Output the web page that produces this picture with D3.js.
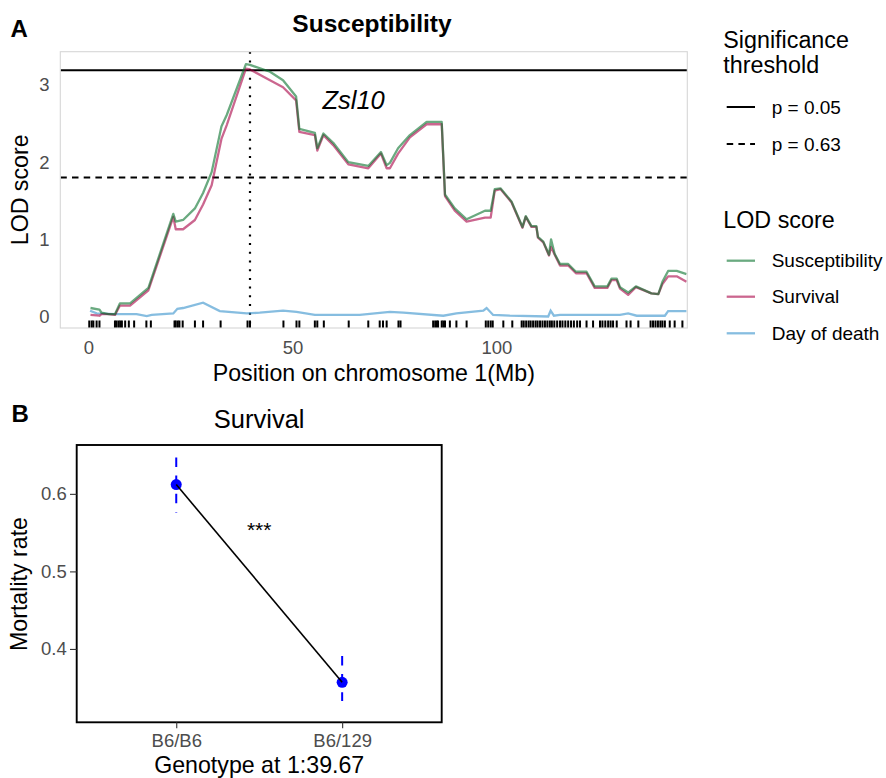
<!DOCTYPE html>
<html>
<head>
<meta charset="utf-8">
<script src="https://cdn.jsdelivr.net/npm/d3@7"></script>
<style>
  body { margin: 0; background: #fff; }
  svg text { font-family: "Liberation Sans", Arial, Helvetica, sans-serif; }
</style>
</head>
<body>
<svg id="chart" width="886" height="778"></svg>
<script>
// ---- Data: panel A (LOD scan, chromosome 1) ----
let positions = [0.5, 2.7, 3.2, 4.9, 6.5, 7.7, 10.2, 14.7, 20.8, 21.4, 23.2, 26.1, 28.1, 30.2, 32.6, 33.9,
  38.6, 39.6, 44.5, 47.7, 50.9, 51.7, 55.5, 56.1, 57.6, 60.0, 63.7, 68.6, 71.7, 73.1, 73.9, 75.9, 78.8,
  82.9, 86.6, 87.4, 89.8, 92.7, 97.2, 98.6, 99.6, 101.0, 103.7, 106.4, 107.2, 108.6, 109.8, 110.2, 111.5,
  112.9, 113.4, 114.3, 115.6, 117.6, 119.5, 122.1, 124.1, 127.2, 128.2, 129.5, 130.3, 132.3, 134.2, 138.0,
  139.7, 140.7, 142.1, 144.2, 146.6];
let suscLod = [0.11, 0.09, 0.05, 0.03, 0.03, 0.17, 0.17, 0.37, 1.33, 1.23, 1.25, 1.40, 1.60, 1.87, 2.46, 2.61,
  3.27, 3.26, 3.17, 3.06, 2.85, 2.43, 2.38, 2.18, 2.37, 2.25, 2.00, 1.95, 2.13, 1.96, 1.99, 2.18, 2.35,
  2.52, 2.52, 1.58, 1.40, 1.26, 1.37, 1.37, 1.65, 1.66, 1.49, 1.16, 1.30, 1.17, 1.17, 1.03, 0.97,
  0.80, 1.00, 0.81, 0.68, 0.68, 0.58, 0.58, 0.39, 0.39, 0.49, 0.49, 0.38, 0.31, 0.39, 0.30,
  0.29, 0.45, 0.59, 0.59, 0.55];
let survLod = [0.02, 0.01, 0.03, 0.03, 0.02, 0.14, 0.14, 0.34, 1.29, 1.13, 1.13, 1.25, 1.45, 1.70, 2.30, 2.48,
  3.21, 3.20, 3.06, 2.97, 2.80, 2.39, 2.35, 2.15, 2.35, 2.22, 1.97, 1.92, 2.11, 1.92, 1.92, 2.11, 2.32,
  2.49, 2.49, 1.56, 1.37, 1.23, 1.28, 1.28, 1.63, 1.65, 1.48, 1.15, 1.29, 1.16, 1.16, 1.02, 0.96,
  0.79, 0.90, 0.80, 0.66, 0.66, 0.56, 0.56, 0.37, 0.37, 0.47, 0.47, 0.36, 0.28, 0.38, 0.30,
  0.29, 0.42, 0.52, 0.52, 0.45];
let dodPos = [0.4, 2.0, 6.5, 11.8, 14.3, 15.5, 20.8, 21.8, 23.2, 28.1, 32.2, 38.8, 42.0, 47.7, 51.0, 55.5,
  66.5, 73.9, 77.2, 87.0, 90.2, 96.8, 97.6, 99.2, 103.3, 112.7, 113.3, 114.1, 115.6, 130.3, 132.3, 134.4,
  141.3, 142.1, 146.6];
let dodLod = [0.075, 0.04, 0.03, 0.03, 0.006, 0.02, 0.04, 0.10, 0.11, 0.18, 0.07, 0.04, 0.05, 0.075, 0.06, 0.02,
  0.02, 0.06, 0.05, 0.01, 0.04, 0.075, 0.11, 0.02, 0.01, 0.00, 0.075, 0.01, 0.02, 0.02, 0.04, 0.01,
  0.01, 0.07, 0.07];
let markerPos = [0.2, 0.8, 1.2, 2.0, 2.7, 6.5, 6.9, 7.4, 7.8, 8.2, 9.0, 9.9, 11.2, 14.2, 15.3, 21.1, 21.4,
  21.9, 22.3, 23.1, 26.1, 28.1, 32.4, 39.0, 39.6, 47.8, 51.0, 51.7, 55.5, 56.1, 57.7, 63.8, 68.6, 71.4,
  72.2, 73.1, 76.0, 76.5, 84.5, 85.0, 85.4, 85.7, 86.6, 87.0, 87.4, 88.6, 90.2, 92.7, 97.4, 98.0, 98.6,
  99.1, 101.7, 103.9, 106.2, 106.7, 107.3, 107.9, 108.4, 109.0, 109.6, 110.1, 110.7, 111.3, 111.9, 112.5,
  113.1, 113.6, 114.2, 114.9, 115.6, 116.2, 116.9, 117.6, 118.3, 119.0, 119.8, 120.5, 122.1, 123.7, 125.4,
  126.0, 126.7, 127.4, 128.0, 128.6, 129.5, 131.9, 132.9, 134.8, 137.8, 138.4, 139.0, 139.6, 140.2, 140.7,
  141.3, 142.5, 143.7, 145.6];
let xTicksA = [0, 50, 100];
let yTicksA = [0, 1, 2, 3];
let thresholds = [3.19, 1.80];
let thresholdLabels = ["p = 0.05", "p = 0.63"];
let peakPos = 39.6;
let seriesNames = ["Susceptibility", "Survival", "Day of death"];

// ---- Data: panel B (mortality by genotype) ----
let genotypes = ["B6/B6", "B6/129"];
let mortality = [0.612, 0.357];
let errLow = [0.576, 0.333];
let errHigh = [0.647, 0.391];
let yTicksB = [0.4, 0.5, 0.6];

// Styles
let colors = { Susceptibility: "#07712b", Survival: "#a80045", "Day of death": "#3591cb" };
let tickGray = "#4d4d4d";
let tickSize = "18.5px", titleSize = "23.2px";

let svg = d3.select("#chart");

// ================= Panel A =================
let pA = { left: 60.3, right: 687.3, top: 51.7, bottom: 328 };
let x = d3.scaleLinear().domain([-6.9, 146.8]).range([pA.left, pA.right]);
let y = d3.scaleLinear().domain([-0.149, 3.43]).range([pA.bottom, pA.top]);

svg.append("clipPath").attr("id", "clipA")
  .append("rect")
    .attr("x", pA.left).attr("y", pA.top)
    .attr("width", pA.right - pA.left).attr("height", pA.bottom - pA.top);

let gA = svg.append("g").attr("clip-path", "url(#clipA)");

// Threshold lines
gA.selectAll("line.threshold")
  .data(thresholds)
  .enter()
  .append("line")
    .attr("class", "threshold")
    .attr("x1", pA.left).attr("x2", pA.right)
    .attr("y1", d => y(d)).attr("y2", d => y(d))
    .attr("stroke", "black")
    .attr("stroke-width", 2)
    .attr("stroke-dasharray", (d, i) => i == 0 ? null : "6.5,5.2");

// Peak marker
gA.append("line")
  .attr("x1", x(peakPos)).attr("x2", x(peakPos))
  .attr("y1", pA.top).attr("y2", pA.bottom)
  .attr("stroke", "black")
  .attr("stroke-width", 2.2)
  .attr("stroke-dasharray", "2,6.7");

// LOD curves
let lodLine = d3.line()
  .x((d, i) => x(positions[i]))
  .y(d => y(d));
let dodLine = d3.line()
  .x((d, i) => x(dodPos[i]))
  .y(d => y(d));

gA.append("path")
  .datum(dodLod)
  .attr("d", dodLine)
  .attr("fill", "none")
  .attr("stroke", colors["Day of death"])
  .attr("stroke-opacity", 0.6)
  .attr("stroke-width", 2.3);

gA.append("path")
  .datum(survLod)
  .attr("d", lodLine)
  .attr("fill", "none")
  .attr("stroke", colors.Survival)
  .attr("stroke-opacity", 0.6)
  .attr("stroke-width", 2.3)
  .attr("stroke-linejoin", "round");

gA.append("path")
  .datum(suscLod)
  .attr("d", lodLine)
  .attr("fill", "none")
  .attr("stroke", colors.Susceptibility)
  .attr("stroke-opacity", 0.6)
  .attr("stroke-width", 2.3)
  .attr("stroke-linejoin", "round");

// Marker rug
gA.selectAll("line.rug")
  .data(markerPos)
  .enter()
  .append("line")
    .attr("class", "rug")
    .attr("x1", d => x(d)).attr("x2", d => x(d))
    .attr("y1", pA.bottom - 7.5).attr("y2", pA.bottom)
    .attr("stroke", "black")
    .attr("stroke-width", 2);

// Panel border
svg.append("rect")
  .attr("x", pA.left).attr("y", pA.top)
  .attr("width", pA.right - pA.left).attr("height", pA.bottom - pA.top)
  .attr("fill", "none")
  .attr("stroke", "#d6d6d6")
  .attr("stroke-width", 1.1);

// Axes
let axA_x = svg.append("g")
  .attr("transform", "translate(0," + pA.bottom + ")")
  .call(d3.axisBottom(x).tickValues(xTicksA).tickFormat(d3.format("d")).tickSize(0).tickPadding(12.5));
let axA_y = svg.append("g")
  .attr("transform", "translate(" + pA.left + ",0)")
  .call(d3.axisLeft(y).tickValues(yTicksA).tickFormat(d3.format("d")).tickSize(0).tickPadding(10.8));
[axA_x, axA_y].forEach(ax => {
  ax.select(".domain").remove();
  ax.selectAll("text")
    .style("font-size", tickSize)
    .style("font-family", "'Liberation Sans', Arial, sans-serif")
    .attr("fill", tickGray);
});

svg.append("text")
  .attr("x", (pA.left + pA.right) / 2)
  .attr("y", 381)
  .attr("text-anchor", "middle")
  .style("font-size", titleSize)
  .text("Position on chromosome 1(Mb)");

svg.append("text")
  .attr("transform", "translate(28," + (pA.top + pA.bottom) / 2 + ") rotate(-90)")
  .attr("text-anchor", "middle")
  .style("font-size", titleSize)
  .text("LOD score");

// Title and annotations
svg.append("text")
  .attr("x", 372)
  .attr("y", 32.3)
  .attr("text-anchor", "middle")
  .style("font-size", "24.5px")
  .style("font-weight", "bold")
  .text("Susceptibility");

svg.append("text")
  .attr("x", 10.5)
  .attr("y", 37)
  .style("font-size", "24px")
  .style("font-weight", "bold")
  .text("A");

svg.append("text")
  .attr("x", x(65))
  .attr("y", y(2.69))
  .attr("text-anchor", "middle")
  .style("font-size", "25.5px")
  .style("font-style", "italic")
  .text("Zsl10");

// Legend
let legX = 723.3, keyX1 = 726.7, keyX2 = 755, labX = 771.7;
svg.append("text").attr("x", legX).attr("y", 48)
  .style("font-size", "23.3px").text("Significance");
svg.append("text").attr("x", legX).attr("y", 73.3)
  .style("font-size", "23.3px").text("threshold");

let thrY = [107, 144];
thresholdLabels.forEach((lab, i) => {
  svg.append("line")
    .attr("x1", keyX1).attr("x2", keyX2)
    .attr("y1", thrY[i]).attr("y2", thrY[i])
    .attr("stroke", "black")
    .attr("stroke-width", 2)
    .attr("stroke-dasharray", i == 0 ? null : "6.5,5.2");
  svg.append("text")
    .attr("x", labX).attr("y", thrY[i])
    .attr("dy", "0.35em")
    .style("font-size", "19px")
    .text(lab);
});

svg.append("text").attr("x", legX).attr("y", 228.3)
  .style("font-size", "23.3px").text("LOD score");

let serY = [260.7, 296.7, 333.3];
seriesNames.forEach((name, i) => {
  svg.append("line")
    .attr("x1", keyX1).attr("x2", keyX2)
    .attr("y1", serY[i]).attr("y2", serY[i])
    .attr("stroke", colors[name])
    .attr("stroke-opacity", 0.6)
    .attr("stroke-width", 2.3);
  svg.append("text")
    .attr("x", labX).attr("y", serY[i])
    .attr("dy", "0.35em")
    .style("font-size", "19px")
    .text(name);
});

// ================= Panel B =================
let pB = { left: 76.7, right: 441.7, top: 445, bottom: 722.3 };
let xB = d3.scalePoint().domain(genotypes).range([pB.left, pB.right]).padding(0.6);
let yB = d3.scaleLinear().domain([0.3054, 0.663]).range([pB.bottom, pB.top]);

let gB = svg.append("g");

// Error bars
gB.selectAll("line.err")
  .data(genotypes)
  .enter()
  .append("line")
    .attr("class", "err")
    .attr("x1", d => xB(d)).attr("x2", d => xB(d))
    .attr("y1", (d, i) => yB(errHigh[i]))
    .attr("y2", (d, i) => yB(errLow[i]))
    .attr("stroke", "#0000ff")
    .attr("stroke-width", 2)
    .attr("stroke-dasharray", "9.5,8.7");

// Means
gB.selectAll("circle")
  .data(genotypes)
  .enter()
  .append("circle")
    .attr("cx", d => xB(d))
    .attr("cy", (d, i) => yB(mortality[i]))
    .attr("r", 5.5)
    .attr("fill", "#0000ff");

gB.append("path")
  .datum(mortality)
  .attr("d", d3.line().x((d, i) => xB(genotypes[i])).y(d => yB(d)))
  .attr("fill", "none")
  .attr("stroke", "black")
  .attr("stroke-width", 1.6);

gB.append("text")
  .attr("x", (xB(genotypes[0]) + xB(genotypes[1])) / 2)
  .attr("y", yB(0.545))
  .attr("text-anchor", "middle")
  .style("font-size", "21px")
  .text("***");

// Box
svg.append("rect")
  .attr("x", pB.left).attr("y", pB.top)
  .attr("width", pB.right - pB.left).attr("height", pB.bottom - pB.top)
  .attr("fill", "none")
  .attr("stroke", "black")
  .attr("stroke-width", 1.9);

let axB_x = svg.append("g")
  .attr("transform", "translate(0," + pB.bottom + ")")
  .call(d3.axisBottom(xB).tickSize(6).tickPadding(5.8));
let axB_y = svg.append("g")
  .attr("transform", "translate(" + pB.left + ",0)")
  .call(d3.axisLeft(yB).tickValues(yTicksB).tickFormat(d3.format(".1f")).tickSize(6.7).tickPadding(3.3));
[axB_x, axB_y].forEach(ax => {
  ax.select(".domain").remove();
  ax.selectAll("line").attr("stroke", "#333").attr("stroke-width", 1.1);
  ax.selectAll("text")
    .style("font-size", tickSize)
    .style("font-family", "'Liberation Sans', Arial, sans-serif")
    .attr("fill", tickGray);
});

svg.append("text")
  .attr("x", (pB.left + pB.right) / 2)
  .attr("y", 773)
  .attr("text-anchor", "middle")
  .style("font-size", titleSize)
  .text("Genotype at 1:39.67");

svg.append("text")
  .attr("transform", "translate(27," + 584 + ") rotate(-90)")
  .attr("text-anchor", "middle")
  .style("font-size", titleSize)
  .text("Mortality rate");

svg.append("text")
  .attr("x", (pB.left + pB.right) / 2)
  .attr("y", 428.3)
  .attr("text-anchor", "middle")
  .style("font-size", "25.5px")
  .text("Survival");

svg.append("text")
  .attr("x", 11.5)
  .attr("y", 421.7)
  .style("font-size", "24px")
  .style("font-weight", "bold")
  .text("B");
</script>
</body>
</html>
